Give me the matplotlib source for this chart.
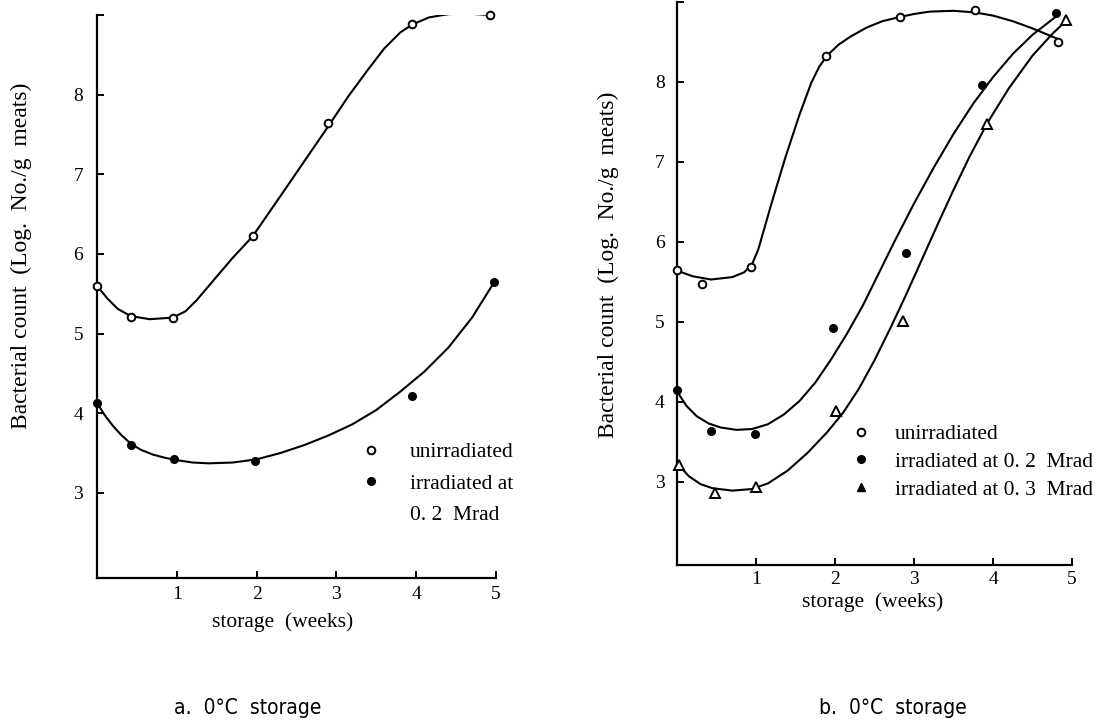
import matplotlib
matplotlib.use("Agg")
import matplotlib.pyplot as plt
from matplotlib.lines import Line2D

plt.rcParams['font.family'] = ['Liberation Serif', 'DejaVu Serif']

# ---------------- data: panel a ----------------
a_unirr_x = [0, 0.42, 0.95, 1.95, 2.9, 3.95, 4.92]
a_unirr_y = [5.6, 5.21, 5.19, 6.22, 7.65, 8.89, 9.0]
a_irr2_x = [0, 0.42, 0.97, 1.98, 3.95, 4.98]
a_irr2_y = [4.13, 3.6, 3.42, 3.40, 4.22, 5.65]

# hand-drawn fitted curves
a_unirr_curve_x = [0, 0.13, 0.26, 0.42, 0.66, 0.95, 1.11, 1.25, 1.47, 1.7, 1.95,
                   2.37, 2.65, 2.91, 3.15, 3.4, 3.6, 3.8, 3.95, 4.16, 4.4, 4.61, 4.92]
a_unirr_curve_y = [5.6, 5.44, 5.31, 5.22, 5.18, 5.2, 5.28, 5.42, 5.68, 5.95, 6.22,
                   6.83, 7.24, 7.62, 7.98, 8.32, 8.58, 8.78, 8.88, 8.97, 9.01, 9.02, 9.0]
a_irr2_curve_x = [0, 0.1, 0.2, 0.3, 0.42, 0.55, 0.7, 0.85, 1.0, 1.2, 1.4, 1.7, 2.0,
                  2.3, 2.6, 2.9, 3.2, 3.5, 3.8, 4.1, 4.4, 4.7, 4.98]
a_irr2_curve_y = [4.13, 3.97, 3.84, 3.73, 3.62, 3.54, 3.48, 3.44, 3.41, 3.38, 3.37,
                  3.38, 3.42, 3.5, 3.6, 3.72, 3.86, 4.04, 4.27, 4.52, 4.82, 5.2, 5.65]

# ---------------- data: panel b ----------------
b_unirr_x = [0, 0.32, 0.94, 1.88, 2.82, 3.77, 4.82]
b_unirr_y = [5.65, 5.48, 5.69, 8.33, 8.81, 8.9, 8.5]
b_irr2_x = [0, 0.43, 0.99, 1.98, 2.9, 3.86, 4.8]
b_irr2_y = [4.15, 3.63, 3.6, 4.92, 5.86, 7.96, 8.86]
b_irr3_x = [0.03, 0.48, 1.0, 2.01, 2.86, 3.93, 4.93]
b_irr3_y = [3.21, 2.86, 2.94, 3.89, 5.01, 7.47, 8.78]

b_unirr_curve_x = [0, 0.2, 0.43, 0.7, 0.85, 0.95, 1.03, 1.19, 1.37, 1.55, 1.7, 1.8,
                   1.9, 2.05, 2.2, 2.4, 2.6, 2.81, 3.0, 3.2, 3.5, 3.77, 4.0, 4.25,
                   4.5, 4.84]
b_unirr_curve_y = [5.64, 5.57, 5.53, 5.56, 5.62, 5.72, 5.91, 6.46, 7.05, 7.59, 7.99,
                   8.19, 8.33, 8.47, 8.57, 8.68, 8.76, 8.81, 8.85, 8.88, 8.89, 8.87,
                   8.83, 8.76, 8.67, 8.53]
b_irr2_curve_x = [0, 0.12, 0.25, 0.4, 0.55, 0.75, 0.95, 1.15, 1.35, 1.55, 1.75, 1.95,
                  2.15, 2.35, 2.55, 2.75, 3.0, 3.25, 3.5, 3.75, 4.0, 4.25, 4.5, 4.8]
b_irr2_curve_y = [4.13, 3.95, 3.82, 3.73, 3.68, 3.65, 3.66, 3.72, 3.84, 4.01, 4.24,
                  4.53, 4.85, 5.2, 5.6, 6.0, 6.48, 6.93, 7.35, 7.73, 8.06, 8.35,
                  8.59, 8.82]
b_irr3_curve_x = [0.03, 0.15, 0.3, 0.45, 0.7, 0.95, 1.15, 1.4, 1.65, 1.9, 2.1, 2.3,
                  2.5, 2.7, 2.9, 3.1, 3.3, 3.5, 3.7, 3.93, 4.2, 4.5, 4.75, 4.93]
b_irr3_curve_y = [3.2, 3.07, 2.97, 2.92, 2.89, 2.91, 2.98, 3.14, 3.36, 3.62, 3.86,
                  4.16, 4.52, 4.92, 5.34, 5.78, 6.22, 6.65, 7.06, 7.49, 7.92, 8.33,
                  8.6, 8.77]

# ---------------- labels ----------------
x_ticks = [1, 2, 3, 4, 5]
x_ticklabels = ['1', '2', '3', '4', '5']
y_ticks = [3, 4, 5, 6, 7, 8, 9]
y_ticklabels = ['3', '4', '5', '6', '7', '8', '']
ylabel = 'Bacterial count  (Log.  No./g  meats)'
xlabel = 'storage  (weeks)'
captions = ['a.  0°C  storage', 'b.  0°C  storage']

fig = plt.figure(figsize=(11.13, 7.2), dpi=100)
axa = fig.add_axes([0.08715, 0.19722, 0.3585, 0.78194])
axb = fig.add_axes([0.60827, 0.21528, 0.35490, 0.78194])

line_kw = dict(color='black', lw=1.5, solid_capstyle='round', solid_joinstyle='round')
open_kw = dict(marker='o', ms=5.5, mfc='white', mec='black', mew=1.4, ls='none', clip_on=False, zorder=3)
fill_kw = dict(marker='o', ms=5.5, mfc='black', mec='black', ls='none', clip_on=False, zorder=3)
tri_kw = dict(marker='^', ms=7.5, mfc='white', mec='black', mew=1.4, ls='none', clip_on=False, zorder=3)

# panel a
axa.plot(a_unirr_curve_x, a_unirr_curve_y, **line_kw)
axa.plot(a_irr2_curve_x, a_irr2_curve_y, **line_kw)
axa.plot(a_unirr_x, a_unirr_y, **open_kw)
axa.plot(a_irr2_x, a_irr2_y, **fill_kw)
axa.set_ylim(1.93, 9.0)

# panel b
axb.plot(b_unirr_curve_x, b_unirr_curve_y, **line_kw)
axb.plot(b_irr2_curve_x, b_irr2_curve_y, **line_kw)
axb.plot(b_irr3_curve_x, b_irr3_curve_y, **line_kw)
axb.plot(b_unirr_x, b_unirr_y, **open_kw)
axb.plot(b_irr2_x, b_irr2_y, **fill_kw)
axb.plot(b_irr3_x, b_irr3_y, **tri_kw)
axb.set_ylim(1.96, 9.0)

for ax, ypad, xpad in ((axa, 10, 6), (axb, 9, 4)):
    ax.set_xlim(0, 5)
    ax.set_xticks(x_ticks)
    ax.set_xticklabels(x_ticklabels)
    ax.set_yticks(y_ticks)
    ax.set_yticklabels(y_ticklabels)
    for s in ('top', 'right'):
        ax.spines[s].set_visible(False)
    for s in ('left', 'bottom'):
        ax.spines[s].set_linewidth(1.6)
    ax.tick_params(axis='y', direction='in', length=5, width=1.4, pad=ypad, labelsize=14)
    ax.tick_params(axis='x', direction='in', length=5, width=1.4, pad=xpad, labelsize=14)
    ax.patch.set_alpha(0)
    ax.set_ylabel(ylabel, fontsize=17)
    ax.set_xlabel(xlabel, fontsize=15.5)

axa.yaxis.set_label_coords(-0.163, 0.572)
axb.yaxis.set_label_coords(-0.146, 0.533)
axa.xaxis.set_label_coords(0.464, -0.060)
axb.xaxis.set_label_coords(0.496, -0.048)

# legends
leg_a = axa.legend(
    handles=[Line2D([], [], **{**open_kw, 'clip_on': True}),
             Line2D([], [], **{**fill_kw, 'clip_on': True}),
             Line2D([], [], ls='none')],
    labels=['unirradiated', 'irradiated at', '0. 2  Mrad'],
    loc='upper left', bbox_to_anchor=(360 / 1113, 1 - 442 / 720),
    bbox_transform=fig.transFigure, frameon=False, fontsize=15.5,
    handlelength=1.0, handletextpad=1.3, labelspacing=0.53, borderpad=0, borderaxespad=0)

tri_leg = dict(marker='^', ms=6, mfc='black', mec='black', ls='none')
leg_b = axb.legend(
    handles=[Line2D([], [], **{**open_kw, 'clip_on': True}),
             Line2D([], [], **{**fill_kw, 'clip_on': True}),
             Line2D([], [], **tri_leg)],
    labels=['unirradiated', 'irradiated at 0. 2  Mrad', 'irradiated at 0. 3  Mrad'],
    loc='upper left', bbox_to_anchor=(850 / 1113, 1 - 424 / 720),
    bbox_transform=fig.transFigure, frameon=False, fontsize=15.5,
    handlelength=1.0, handletextpad=1.1, labelspacing=0.36, borderpad=0, borderaxespad=0)

cap_font = ['DejaVu Sans']
fig.text(248 / 1113, 1 - 708 / 720, captions[0], ha='center', va='center',
         fontsize=15, family=cap_font, fontstretch='condensed')
fig.text(893 / 1113, 1 - 708 / 720, captions[1], ha='center', va='center',
         fontsize=15, family=cap_font, fontstretch='condensed')

fig.savefig('out.png', dpi=100, facecolor='white')
